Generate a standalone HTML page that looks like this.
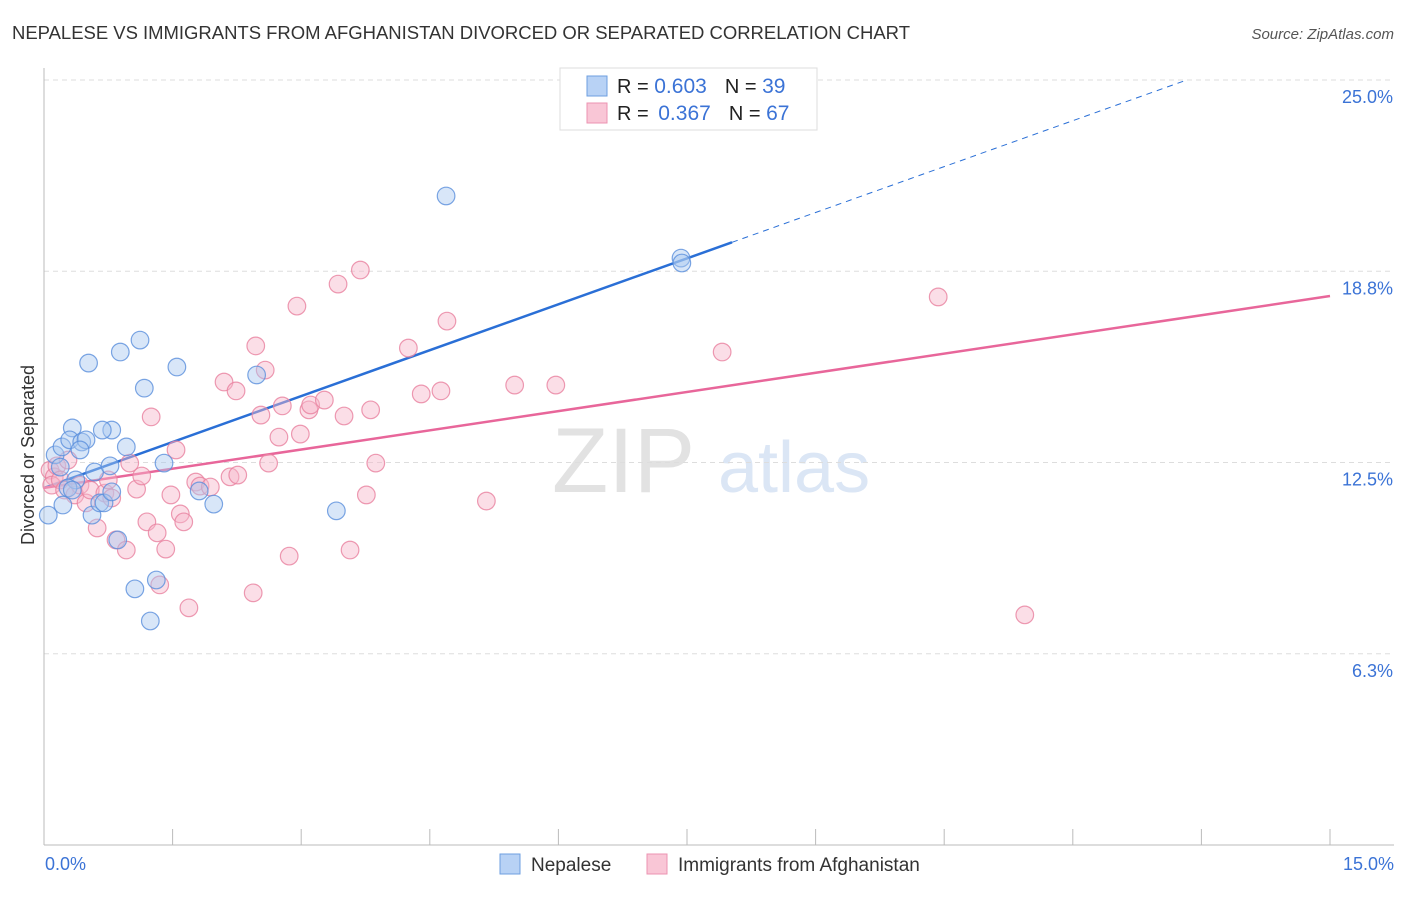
<!DOCTYPE html>
<html><head><meta charset="utf-8"><style>
body{margin:0;background:#fff;font-family:"Liberation Sans",sans-serif;}
svg text{font-family:"Liberation Sans",sans-serif;}
</style></head><body>
<svg id="chart" width="1406" height="892">
<text x="12" y="39" font-size="18.5" fill="#333" textLength="898">NEPALESE VS IMMIGRANTS FROM AFGHANISTAN DIVORCED OR SEPARATED CORRELATION CHART</text>
<text x="1394" y="39" font-size="15" fill="#555" font-style="italic" text-anchor="end">Source: ZipAtlas.com</text>
<g>
<text x="552" y="492" font-size="92" fill="#e2e2e2" font-family="Liberation Serif,serif">ZIP</text>
<text x="718" y="492" font-size="72" fill="#dbe6f5">atlas</text>
</g>
<g id="grid"></g>
<g id="axes"></g>
<g id="lines"></g>
<g id="pts"></g>
<text transform="translate(34,455) rotate(-90)" font-size="18" fill="#333" text-anchor="middle">Divorced or Separated</text>
<text x="45" y="870" font-size="18" fill="#3b73d6">0.0%</text>
<text x="1394" y="870" font-size="18" fill="#3b73d6" text-anchor="end">15.0%</text>
<g>
<rect x="560" y="68" width="257" height="62" fill="#fff" stroke="#ddd"/>
<rect x="587" y="76" width="20" height="20" fill="#b8d2f5" stroke="#6e9fe0"/>
<rect x="587" y="103" width="20" height="20" fill="#f9c6d6" stroke="#ec93b1"/>
<text x="617" y="93" font-size="20" fill="#222">R = <tspan fill="#3b73d6" font-size="21">0.603</tspan><tspan dx="18">N = </tspan><tspan fill="#3b73d6" font-size="21">39</tspan></text>
<text x="617" y="120" font-size="20" fill="#222">R = <tspan fill="#3b73d6" dx="4" font-size="21">0.367</tspan><tspan dx="18">N = </tspan><tspan fill="#3b73d6" font-size="21">67</tspan></text>
</g>
<g>
<rect x="500" y="854" width="20" height="20" fill="#b8d2f5" stroke="#6e9fe0"/>
<text x="531" y="871" font-size="19" fill="#333">Nepalese</text>
<rect x="647" y="854" width="20" height="20" fill="#f9c6d6" stroke="#ec93b1"/>
<text x="678" y="871" font-size="19" fill="#333">Immigrants from Afghanistan</text>
</g>
</svg>
<script>
const yTicks=[25,18.75,12.5,6.25];
const yTickLabels=["25.0%","18.8%","12.5%","6.3%"];
const xTicks=[0,1.5,3,4.5,6,7.5,9,10.5,12,13.5,15];
const blueX=[0.05,0.13,0.21,0.33,0.30,0.44,0.49,0.42,0.37,0.22,0.28,0.56,0.59,0.65,0.70,0.77,0.79,0.68,0.96,0.52,0.89,1.12,1.17,1.55,1.40,0.79,0.86,1.06,1.31,1.24,1.81,1.98,2.48,3.41,4.69,7.43,7.44,0.19,0.33];
const blueY=[10.78,12.75,13.01,13.63,13.24,13.17,13.24,12.91,11.93,11.11,11.67,10.78,12.19,11.18,11.18,12.39,13.56,13.56,13.01,15.75,16.11,16.50,14.93,15.62,12.48,11.54,9.97,8.37,8.66,7.32,11.57,11.14,15.36,10.92,21.21,19.18,19.02,12.35,11.60];
const pinkX=[0.07,0.12,0.15,0.09,0.19,0.24,0.28,0.36,0.42,0.49,0.54,0.62,0.71,0.75,0.79,0.84,0.96,1.00,1.08,1.14,1.20,1.25,1.32,1.35,1.42,1.48,1.54,1.59,1.63,1.69,1.77,1.82,1.94,2.10,2.17,2.24,2.26,2.44,2.47,2.53,2.58,2.62,2.74,2.78,2.86,2.95,2.99,3.09,3.11,3.27,3.43,3.50,3.57,3.69,3.76,3.81,3.87,4.25,4.40,4.63,4.70,5.16,5.49,5.97,7.91,10.43,11.44];
const pinkY=[12.25,12.03,12.39,11.76,11.93,11.60,12.58,11.44,11.76,11.18,11.60,10.36,11.50,11.93,11.34,9.97,9.64,12.48,11.63,12.06,10.56,13.99,10.20,8.50,9.67,11.44,12.91,10.82,10.56,7.75,11.86,11.73,11.70,15.13,12.03,14.84,12.09,8.24,16.31,14.05,15.52,12.48,13.33,14.35,9.44,17.61,13.43,14.22,14.38,14.54,18.33,14.02,9.64,18.79,11.44,14.22,12.48,16.24,14.74,14.84,17.12,11.24,15.03,15.03,16.11,17.91,7.52];
const blueLine=[11.67,1.0];   // intercept, slope
const pinkLine=[11.67,0.418];
const X=v=>44+v/15*1286;
const Y=v=>845-v*30.6;
const NS="http://www.w3.org/2000/svg";
function mk(t,a,p){const e=document.createElementNS(NS,t);for(const k in a)e.setAttribute(k,a[k]);document.getElementById(p).appendChild(e);return e;}
yTicks.forEach((t,i)=>{
 const l=mk('line',{x1:44,x2:1394,y1:Y(t),y2:Y(t),stroke:'#ddd','stroke-dasharray':'5,4'},'grid');
 
 
 const tx=mk('text',{x:1393,y:Y(t)+23,'font-size':18,fill:'#3b73d6','text-anchor':'end'},'grid');
 tx.textContent=yTickLabels[i];
 
 
});
const ya=mk('line',{x1:44,x2:44,y1:68,y2:845,stroke:'#bbb'},'axes');


const xa=mk('line',{x1:44,x2:1394,y1:845,y2:845,stroke:'#bbb'},'axes');


xTicks.forEach(t=>{
 const l=mk('line',{x1:X(t),x2:X(t),y1:829,y2:845,stroke:'#bbb'},'axes');
 
 
});
function pts(xs,ys,fill,stroke,name){
 xs.forEach((x,i)=>{
  const c=mk('circle',{cx:X(x),cy:Y(ys[i]),r:8.8,fill:fill,'fill-opacity':0.45,stroke:stroke,'stroke-width':1.2,'stroke-opacity':0.8},'pts');
  
  
 });
}
pts(pinkX,pinkY,'#f7b5c9','#e9819f','afghanistan-point');
pts(blueX,blueY,'#a9c8f0','#5a8fdc','nepalese-point');
const bEnd=8.025, bDash=(25-blueLine[0])/blueLine[1];
const b1=mk('line',{x1:X(0),y1:Y(blueLine[0]),x2:X(bEnd),y2:Y(blueLine[0]+blueLine[1]*bEnd),stroke:'#2a6fd6','stroke-width':2.5},'lines');


const b2=mk('line',{x1:X(bEnd),y1:Y(blueLine[0]+blueLine[1]*bEnd),x2:X(bDash),y2:Y(blueLine[0]+blueLine[1]*bDash),stroke:'#2a6fd6','stroke-width':1,'stroke-dasharray':'6,5'},'lines');


const p1=mk('line',{x1:X(0),y1:Y(pinkLine[0]),x2:X(15),y2:Y(pinkLine[0]+pinkLine[1]*15),stroke:'#e8669a','stroke-width':2.5},'lines');


</script>
</body></html>
